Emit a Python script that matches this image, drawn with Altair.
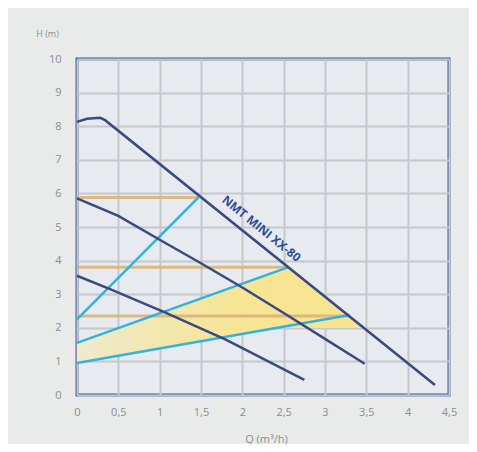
import altair as alt
import pandas as pd

# Pump curves (navy)
max_q = [0, 0.12, 0.28, 0.34, 4.33]
max_h = [8.13, 8.22, 8.25, 8.18, 0.3]
mid_q = [0, 0.5, 1.0, 1.5, 2.0, 2.5, 3.0, 3.48]
mid_h = [5.85, 5.33, 4.62, 3.92, 3.2, 2.44, 1.67, 0.93]
low_q = [0, 0.4, 1.07, 1.8, 2.75]
low_h = [3.55, 3.15, 2.45, 1.65, 0.45]

# System lines (cyan)
cyan_a_q = [0, 1.47]
cyan_a_h = [2.25, 5.88]
cyan_b_q = [0, 2.55]
cyan_b_h = [1.55, 3.8]
cyan_c_q = [0, 3.3]
cyan_c_h = [0.95, 2.38]

# Horizontal operating levels (orange)
lvl_h = [5.88, 3.8, 2.35]
lvl_q_end = [1.47, 2.55, 3.3]

# Yellow zone
zone_q = [0, 2.39, 2.55, 3.46]
zone_top = [1.55, 3.66, 3.8, 2.0]
zone_bot = [0.95, 2.0, 2.0, 2.0]

x_ticks = [0, 0.5, 1, 1.5, 2, 2.5, 3, 3.5, 4, 4.5]
y_ticks = [0, 1, 2, 3, 4, 5, 6, 7, 8, 9, 10]

label_text = "NMT MINI XX-80"
label_q, label_h = 2.23, 4.95

def mk(name, qs, hs):
    return pd.DataFrame({"series": name, "q": qs, "h": hs, "i": range(len(qs))})

navy_df = pd.concat([mk("max", max_q, max_h), mk("mid", mid_q, mid_h), mk("low", low_q, low_h)])
cyan_df = pd.concat([mk("a", cyan_a_q, cyan_a_h), mk("b", cyan_b_q, cyan_b_h), mk("c", cyan_c_q, cyan_c_h)])
orange_df = pd.concat([mk(f"l{k}", [0, e], [h, h]) for k, (h, e) in enumerate(zip(lvl_h, lvl_q_end))])
zone_df = pd.DataFrame({"q": zone_q, "top": zone_top, "bot": zone_bot})
label_df = pd.DataFrame({"q": [label_q], "h": [label_h], "t": [label_text]})

gray = "#8a8d90"
grid_c = "#c6c8ca"
xs = alt.Scale(domain=[0, 4.5], nice=False)
ys = alt.Scale(domain=[0, 10], nice=False)

x_axis = alt.Axis(values=x_ticks, labelExpr="replace(format(datum.value, ''), '.', ',')",
                  grid=True, gridColor=grid_c, gridWidth=2, ticks=False, domain=False,
                  labelOverlap=False, labelFlush=False,
                  labelColor=gray, labelFontSize=11, labelPadding=11, labelFont="Open Sans",
                  title="Q (m³/h)", titleFontSize=11, titleFontWeight="normal", titleColor=gray,
                  titleFont="Open Sans", titleX=189, titleY=44, titleBaseline="middle", titleAlign="center")
y_axis = alt.Axis(values=y_ticks, grid=True, gridColor=grid_c, gridWidth=2, ticks=False, domain=False,
                  labelOverlap=False, labelFlush=False,
                  labelColor=gray, labelFontSize=11, labelPadding=16, labelFont="Open Sans",
                  title="H (m)", titleFontSize=9, titleFontWeight="normal", titleColor=gray,
                  titleFont="Open Sans", titleAngle=0, titleX=-30, titleY=-26,
                  titleAlign="center", titleBaseline="middle")

X = lambda f: alt.X(f, scale=xs, axis=x_axis)
Y = lambda f: alt.Y(f, scale=ys, axis=y_axis)

zone = alt.Chart(zone_df).mark_area(
    color=alt.Gradient(gradient="linear", x1=0, x2=1, y1=0, y2=0,
                       stops=[alt.GradientStop(color="#eeeacc", offset=0),
                              alt.GradientStop(color="#f6e596", offset=0.55),
                              alt.GradientStop(color="#f8e48e", offset=1)]),
).encode(x=X("q:Q"), y=Y("top:Q"), y2="bot:Q")

orange = alt.Chart(orange_df).mark_line(color="#d8b47a", strokeWidth=3, opacity=0.9).encode(
    x=X("q:Q"), y=Y("h:Q"), detail="series:N", order="i:Q")

cyan = alt.Chart(cyan_df).mark_line(color="#34b2dc", strokeWidth=2.5).encode(
    x=X("q:Q"), y=Y("h:Q"), detail="series:N", order="i:Q")

navy = alt.Chart(navy_df).mark_line(color="#3a4a80", strokeWidth=2.5).encode(
    x=X("q:Q"), y=Y("h:Q"), detail="series:N", order="i:Q")

label = alt.Chart(label_df).mark_text(angle=39, color="#2e4d95", fontWeight="bold", fontSize=12,
                                      font="Open Sans").encode(
    x=X("q:Q"), y=Y("h:Q"), text="t:N")

chart = (zone + orange + cyan + navy + label).properties(
    width=372, height=336, autosize="none",
    padding={"left": 69, "top": 51, "right": 20, "bottom": 49},
    background="#e9ebeb",
).configure_view(stroke="#3d5ca3", strokeWidth=3, fill="#e7eaee")

chart.save("out.html", embed_options={"renderer": "svg", "actions": False})
